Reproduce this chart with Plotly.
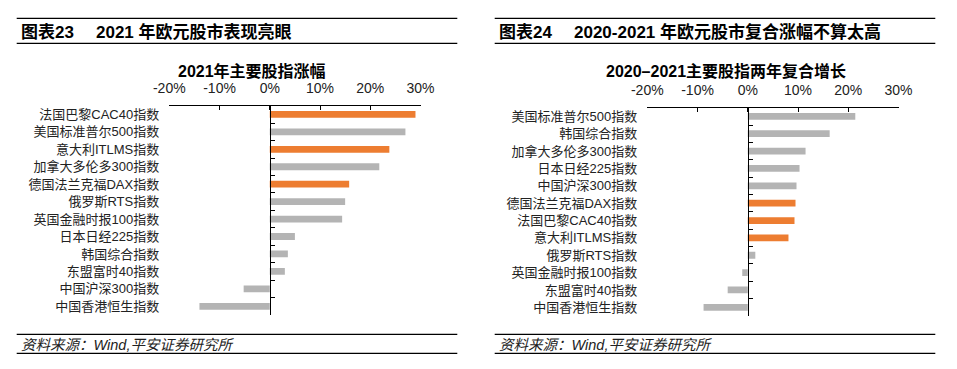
import plotly.graph_objects as go

W, H = 957, 369

# ---- data ----
left_categories = ["法国巴黎CAC40指数", "美国标准普尔500指数", "意大利ITLMS指数", "加拿大多伦多300指数",
                   "德国法兰克福DAX指数", "俄罗斯RTS指数", "英国金融时报100指数", "日本日经225指数",
                   "韩国综合指数", "东盟富时40指数", "中国沪深300指数", "中国香港恒生指数"]
left_values = [29.0, 27.0, 23.8, 21.8, 15.8, 15.0, 14.4, 5.0, 3.6, 3.0, -5.2, -14.0]
left_highlight = [True, False, True, False, True, False, False, False, False, False, False, False]

right_categories = ["美国标准普尔500指数", "韩国综合指数", "加拿大多伦多300指数", "日本日经225指数",
                    "中国沪深300指数", "德国法兰克福DAX指数", "法国巴黎CAC40指数", "意大利ITLMS指数",
                    "俄罗斯RTS指数", "英国金融时报100指数", "东盟富时40指数", "中国香港恒生指数"]
right_values = [21.4, 16.3, 11.5, 10.3, 9.7, 9.5, 9.3, 8.1, 1.5, -1.1, -4.0, -8.8]
right_highlight = [False, False, False, False, False, True, True, True, False, False, False, False]

x_tickvals = [-20, -10, 0, 10, 20, 30]
x_ticktext = ["-20%", "-10%", "0%", "10%", "20%", "30%"]

left_header_no = "图表23"
left_header = "2021 年欧元股市表现亮眼"
right_header_no = "图表24"
right_header = "2020-2021 年欧元股市复合涨幅不算太高"
left_title = "2021年主要股指涨幅"
right_title = "2020–2021主要股指两年复合增长"
source = "资料来源：Wind,平安证券研究所"

ORANGE = "#ED7D31"
GRAY = "#B4B4B4"
FONT = "Liberation Sans, Arial, Noto Sans CJK SC"

fig = go.Figure()

fig.add_trace(go.Bar(y=left_categories, x=left_values, orientation="h",
                     marker=dict(color=[ORANGE if h else GRAY for h in left_highlight], line=dict(width=0)),
                     xaxis="x", yaxis="y", showlegend=False, hoverinfo="x+y"))
fig.add_trace(go.Bar(y=right_categories, x=right_values, orientation="h",
                     marker=dict(color=[ORANGE if h else GRAY for h in right_highlight], line=dict(width=0)),
                     xaxis="x2", yaxis="y2", showlegend=False, hoverinfo="x+y"))


def px(v):
    return v / W


def py(v):
    return 1 - v / H


# geometry (pixels)
L = dict(x0=169.3, x1=420.5, top=105.7, bot=315.0)
R = dict(x0=647.3, x1=898.5, top=107.7, bot=316.0)


def zero_pos(g):
    return px(g["x0"] + (g["x1"] - g["x0"]) * (0 - (-20)) / 50)


xcommon = dict(range=[-20, 30], tickvals=x_tickvals, ticktext=x_ticktext, side="top",
               showline=True, linecolor="black", linewidth=1, ticks="inside", ticklen=4,
               tickcolor="black", showgrid=False, zeroline=False, automargin=False,
               ticklabelstandoff=6,
               tickfont=dict(family=FONT, size=14, color="#222"), fixedrange=True)
ycommon = dict(type="category", autorange="reversed", showline=True, linecolor="black",
               linewidth=1, ticks="inside", ticklen=4, tickcolor="black", tickson="boundaries",
               showgrid=False, zeroline=False, ticklabelstandoff=108, automargin=False,
               tickfont=dict(family=FONT, size=13, color="#222"), fixedrange=True)

fig.update_layout(
    template="none",
    width=W, height=H, margin=dict(l=0, r=0, t=0, b=0, pad=0, autoexpand=False),
    paper_bgcolor="white", plot_bgcolor="white",
    bargap=0.61,
    xaxis=dict(domain=[px(L["x0"]), px(L["x1"])], anchor="y", **xcommon),
    yaxis=dict(domain=[py(L["bot"]), py(L["top"])], anchor="free", position=zero_pos(L), **ycommon),
    xaxis2=dict(domain=[px(R["x0"]), px(R["x1"])], anchor="y2", **xcommon),
    yaxis2=dict(domain=[py(R["bot"]), py(R["top"])], anchor="free", position=zero_pos(R), **ycommon),
)

shapes = []
annotations = []
for (lx0, lx1, hno, htxt, ttl, tcx) in [
    (16.7, 457.3, left_header_no, left_header, left_title, 252),
    (494.7, 935.3, right_header_no, right_header, right_title, 725.7),
]:
    for yy in (18.3, 43.3, 334.3, 353.3):
        shapes.append(dict(type="line", xref="paper", yref="paper", x0=px(lx0), x1=px(lx1),
                           y0=py(yy), y1=py(yy), line=dict(color="black", width=1.2)))
    annotations.append(dict(text="<b>" + hno + "</b>", xref="paper", yref="paper",
                            x=px(lx0 + 2), y=py(32.5), xanchor="left", yanchor="middle",
                            showarrow=False, font=dict(family=FONT, size=17, color="black")))
    annotations.append(dict(text="<b>" + htxt + "</b>", xref="paper", yref="paper",
                            x=px(lx0 + 77), y=py(32.5), xanchor="left", yanchor="middle",
                            showarrow=False, font=dict(family=FONT, size=17, color="black")))
    annotations.append(dict(text="<b>" + ttl + "</b>", xref="paper", yref="paper",
                            x=px(tcx), y=py(71), xanchor="center", yanchor="middle",
                            showarrow=False, font=dict(family=FONT, size=16, color="black")))
    annotations.append(dict(text="<i>" + source + "</i>", xref="paper", yref="paper",
                            x=px(lx0 + 2), y=py(344.5), xanchor="left", yanchor="middle",
                            showarrow=False, font=dict(family=FONT, size=14.5, color="#222")))

fig.update_layout(shapes=shapes, annotations=annotations)

fig.write_html("out.html", config={"displayModeBar": False},
               post_script="document.body.style.margin='0';document.body.style.overflow='hidden';"
                           "document.documentElement.style.overflow='hidden';")
